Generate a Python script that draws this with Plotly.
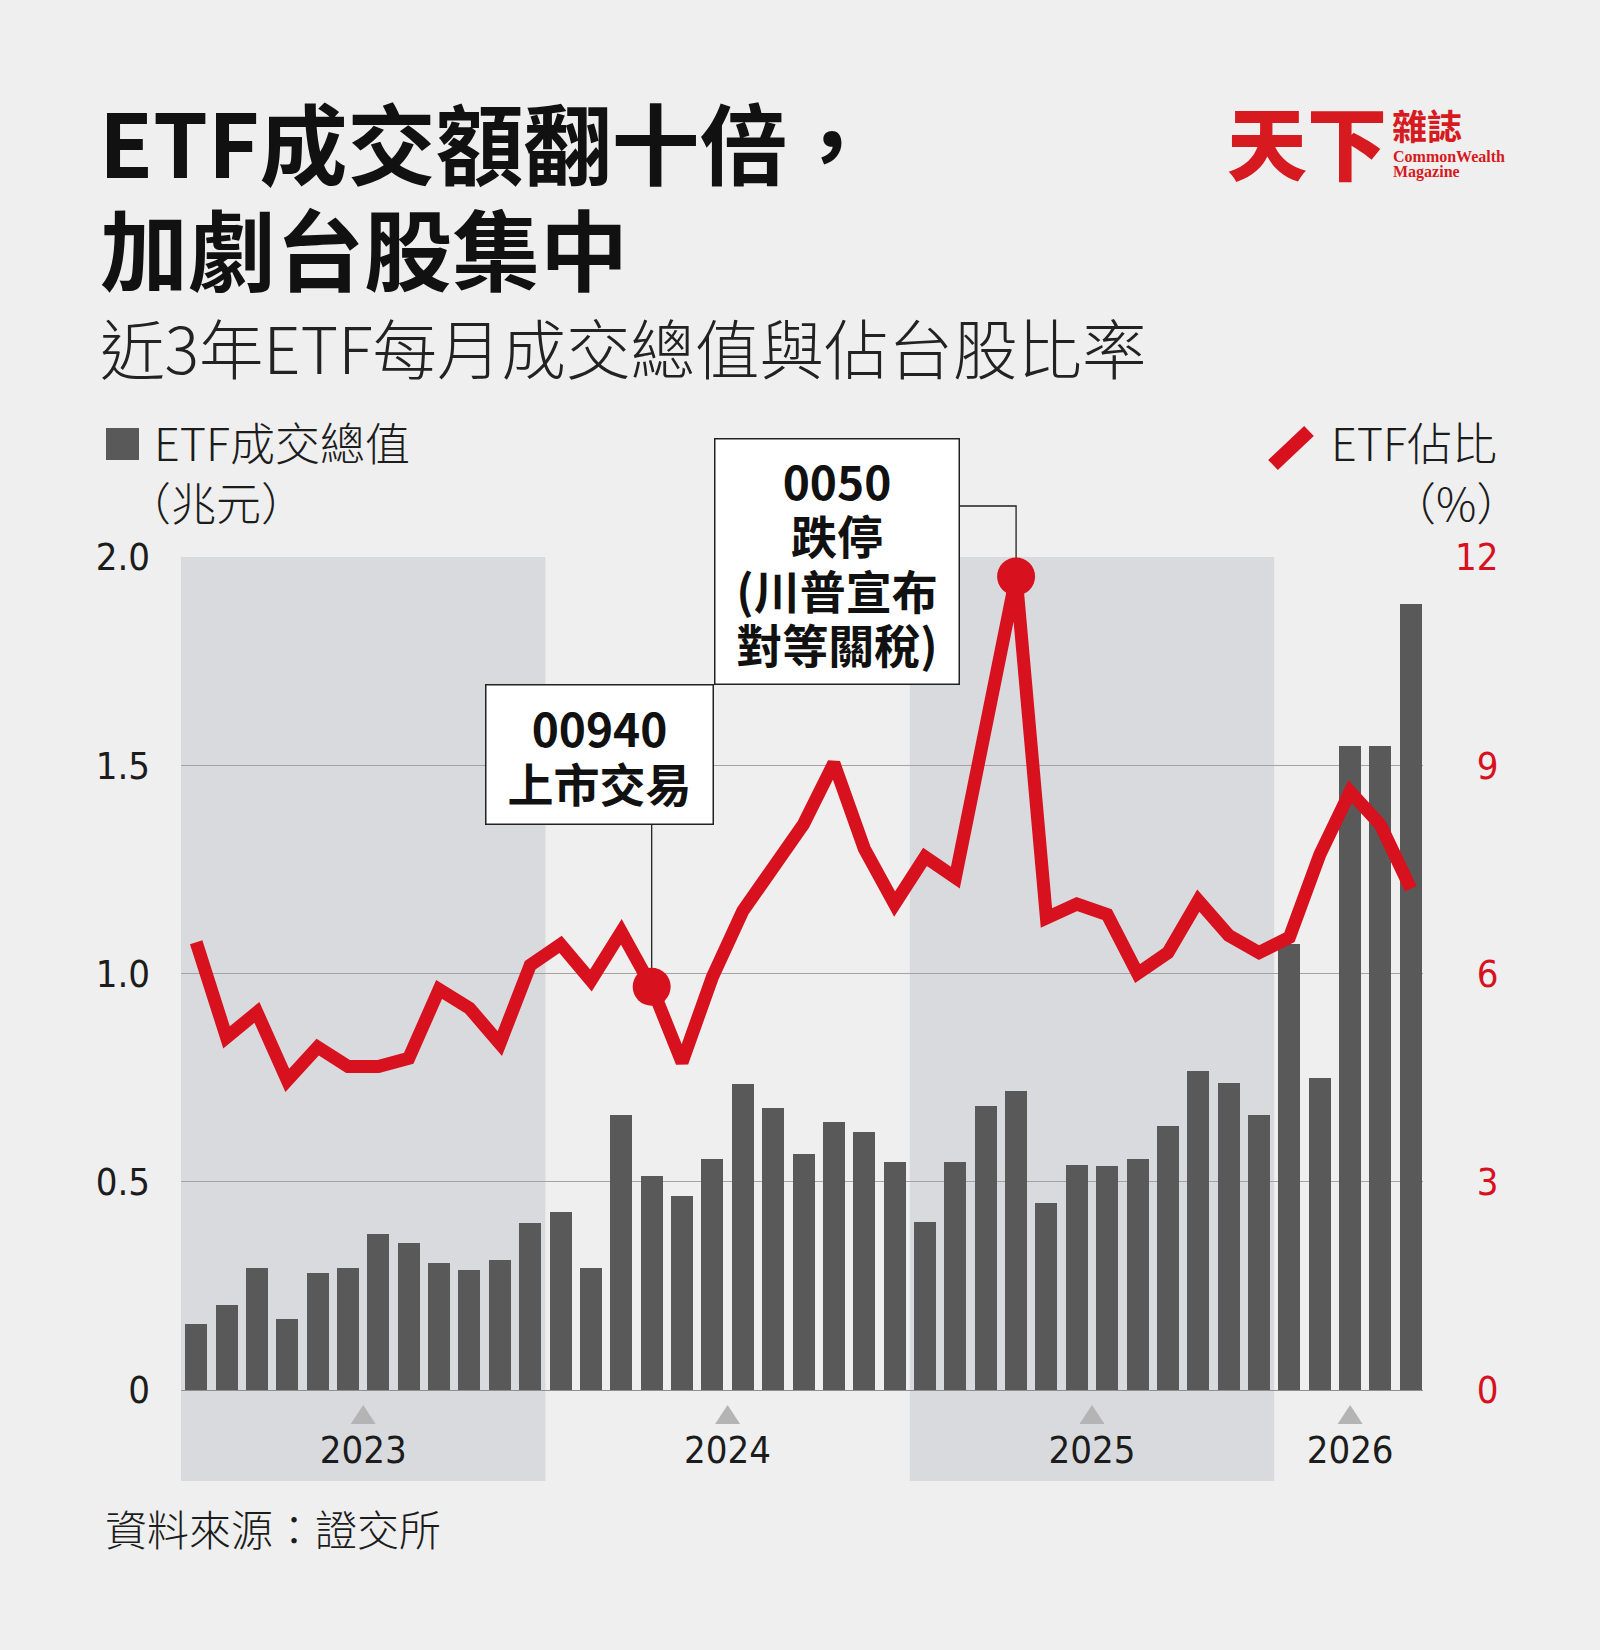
import plotly.graph_objects as go

# ---------------- data ----------------
months = [f"{y}-{m:02d}" for y in (2023, 2024, 2025) for m in range(1, 13)] + \
         [f"2026-{m:02d}" for m in range(1, 6)]

etf_value = [0.159, 0.203, 0.294, 0.170, 0.280, 0.294, 0.374, 0.353, 0.306, 0.288, 0.311, 0.400,
             0.427, 0.294, 0.660, 0.514, 0.465, 0.555, 0.735, 0.677, 0.567, 0.644, 0.620, 0.547,
             0.404, 0.548, 0.683, 0.718, 0.450, 0.540, 0.539, 0.555, 0.633, 0.766, 0.738, 0.660,
             1.070, 0.750, 1.546, 1.546, 1.886]

etf_share = [6.45, 5.08, 5.44, 4.46, 4.94, 4.66, 4.66, 4.78, 5.77, 5.50, 4.99, 6.12,
             6.42, 5.90, 6.60, 5.81, 4.72, 5.95, 6.90, 7.55, 8.15, 9.03, 7.80, 7.00,
             7.68, 7.38, 9.50, 11.72, 6.80, 7.00, 6.85, 6.00, 6.30, 7.05, 6.55, 6.30,
             6.52, 7.71, 8.62, 8.14, 7.22]

years = ["2023", "2024", "2025", "2026"]
shaded_years = ["2023", "2025"]
left_ticks = [0, 0.5, 1.0, 1.5, 2.0]
left_ticktext = ["0", "0.5", "1.0", "1.5", "2.0"]
right_ticks = [0, 3, 6, 9, 12]
right_ticktext = ["\u20070", "\u20073", "\u20076", "\u20079", "12"]

event_idx = [months.index("2024-04"), months.index("2025-04")]
event_text = [["00940", "上市交易"], ["0050", "跌停", "(川普宣布", "對等關稅)"]]

# ---------------- styling ----------------
W, H = 1600, 1650
L, R, T, B = 181, 1423, 557, 1390       # plot area in pixels
BG = "#efefef"
BAND = "#d9dadd"
BAR = "#595959"
RED = "#d7111e"
TXT = "#1c1c1c"
CJK = "Noto Sans CJK TC"
NUM = "DejaVu Sans Condensed, sans-serif"
NUMSIZE = 38

x = list(range(len(months)))
XR = [-0.5, len(months) - 0.6]
PX_PER_UNIT = (R - L) / (XR[1] - XR[0])


def px_x(p):
    return (p - L) / (R - L)


def px_y(p):
    return (B - p) / (B - T)


def year_idx(y):
    return [i for i, m in enumerate(months) if m.startswith(y)]


year_centers = [sum(year_idx(y)) / len(year_idx(y)) for y in years]

fig = go.Figure()

fig.add_trace(go.Bar(x=x, y=etf_value, marker=dict(color=BAR, line=dict(width=0)),
                     width=0.724, yaxis="y", hoverinfo="skip"))

fig.add_trace(go.Scatter(x=x, y=etf_share, mode="lines", yaxis="y2",
                         line=dict(color=RED, width=13), hoverinfo="skip"))

fig.add_trace(go.Scatter(x=event_idx, y=[etf_share[i] for i in event_idx], mode="markers",
                         yaxis="y2", marker=dict(color=RED, size=38), hoverinfo="skip"))

shapes = []
for y in shaded_years:
    idx = year_idx(y)
    shapes.append(dict(type="rect", xref="x", yref="paper", x0=idx[0] - 0.5, x1=idx[-1] + 0.5,
                       y0=px_y(1481), y1=1.0, fillcolor=BAND, line=dict(width=0), layer="below"))

# small triangles under the axis, one per year
hw = 12.5 / PX_PER_UNIT
for c in year_centers:
    shapes.append(dict(type="path", xref="x", yref="paper",
                       path=f"M {c - hw},{px_y(1424)} L {c + hw},{px_y(1424)} L {c},{px_y(1405)} Z",
                       fillcolor="#b4b4b4", line=dict(width=0), layer="above"))

# connector for 00940
i1 = event_idx[0]
shapes.append(dict(type="line", xref="x", yref="paper", x0=i1, x1=i1,
                   y0=px_y(824), y1=etf_share[i1] / 12, line=dict(color="#222", width=1.3),
                   layer="below"))
# connector for 0050
i2 = event_idx[1]
xb = (959 - L) / PX_PER_UNIT + XR[0]
shapes.append(dict(type="path", xref="x", yref="paper",
                   path=f"M {xb},{px_y(506)} L {i2},{px_y(506)} L {i2},{etf_share[i2] / 12}",
                   line=dict(color="#222", width=1.3), layer="below"))

# legend square and red stroke
shapes.append(dict(type="rect", xref="paper", yref="paper", x0=px_x(106), x1=px_x(139),
                   y0=px_y(460), y1=px_y(428), fillcolor=BAR, line=dict(width=0)))
shapes.append(dict(type="line", xref="paper", yref="paper", x0=px_x(1273), x1=px_x(1309),
                   y0=px_y(465), y1=px_y(431), line=dict(color=RED, width=14)))


def ann(text, xp, yp, size, xanchor="left", color=TXT, family=CJK, weight=400, **kw):
    d = dict(text=text, x=px_x(xp), y=px_y(yp), xref="paper", yref="paper", showarrow=False,
             xanchor=xanchor, yanchor="middle",
             font=dict(family=family, size=size, color=color, weight=weight))
    d.update(kw)
    return d


annotations = [
    ann("ETF成交額翻十倍，", 97, 139, 88, weight=700, color="#111"),
    ann("加劇台股集中", 98, 246, 88, weight=700, color="#111"),
    ann("近3年ETF每月成交總值與佔台股比率", 98, 346, 64.5, weight=300, color="#222"),
    ann("天下", 1307, 139, 80, xanchor="center", color="#d71920", weight=900),
    ann("雜誌", 1390, 124, 35, color="#d71920", weight=700),
    ann("CommonWealth", 1391, 156, 16, color="#d71920", family="Liberation Serif", weight=700),
    ann("Magazine", 1391, 172, 16, color="#d71920", family="Liberation Serif", weight=700),
    ann("ETF成交總值", 152, 442, 45, weight=300),
    ann("（兆元）", 216, 501, 45, xanchor="center", weight=300),
    ann("ETF佔比", 1499, 442, 45, xanchor="right", weight=300),
    ann("（%）", 1456, 501, 45, xanchor="center", weight=300),
    ann("資料來源：證交所", 103, 1527, 42, weight=300),
]


def box_text(lines):
    return "<br>".join(f"<span style='font-size:46px'>{s}</span>" for s in lines)


annotations.append(ann(box_text(event_text[0]), 599, 754, 42, xanchor="center", weight=700,
                       color="#111", bgcolor="white", bordercolor="#222", borderwidth=1.5,
                       borderpad=0, width=226, height=138, align="center", valign="middle"))
annotations.append(ann(box_text(event_text[1]), 836.5, 561, 42, xanchor="center", weight=700,
                       color="#111", bgcolor="white", bordercolor="#222", borderwidth=1.5,
                       borderpad=0, width=243, height=244, align="center", valign="middle"))

fig.update_layout(
    width=W, height=H,
    margin=dict(l=L, r=W - R, t=T, b=H - B, pad=0),
    paper_bgcolor=BG, plot_bgcolor="rgba(0,0,0,0)",
    showlegend=False, bargap=0,
    shapes=shapes, annotations=annotations,
    xaxis=dict(range=XR, tickmode="array", tickvals=year_centers, ticktext=years,
               tickfont=dict(family=NUM, size=NUMSIZE, color=TXT), ticks="", showgrid=False,
               zeroline=False, showline=True, linecolor="#8f8f8f", linewidth=1,
               ticklabelstandoff=26, fixedrange=True),
    yaxis=dict(range=[0, 2.0], tickmode="array", tickvals=left_ticks, ticktext=left_ticktext,
               tickfont=dict(family=NUM, size=NUMSIZE, color=TXT), ticks="", showgrid=True,
               gridcolor="#a3a3a3", gridwidth=1, zeroline=False, showline=False,
               ticklabelstandoff=30, fixedrange=True),
    yaxis2=dict(range=[0, 12], overlaying="y", side="right", tickmode="array",
                tickvals=right_ticks, ticktext=right_ticktext,
                tickfont=dict(family=NUM, size=NUMSIZE, color=RED), ticks="", showgrid=False,
                zeroline=False, showline=False, ticklabelstandoff=31, fixedrange=True),
)

fig.write_html("out.html", config={"displayModeBar": False})
